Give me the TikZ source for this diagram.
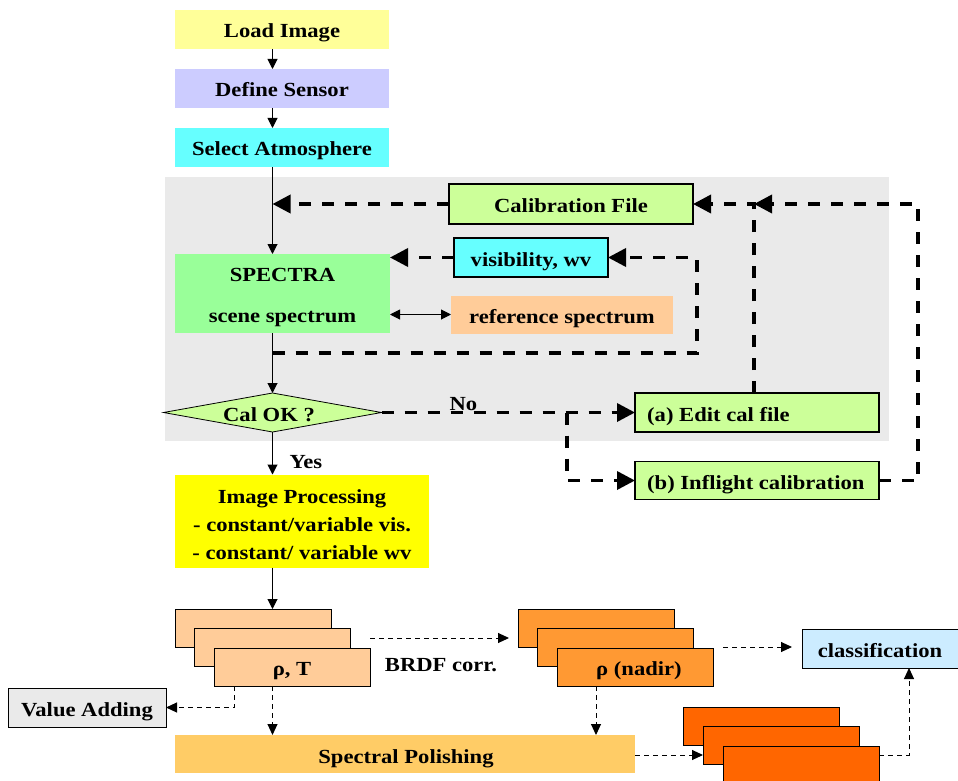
\documentclass[tikz,border=0pt]{standalone}
\usepackage{fontspec}
\setmainfont{Liberation Serif}[FakeStretch=1.13]
\usetikzlibrary{arrows.meta}
\definecolor{cLoad}{HTML}{FFFF99}
\definecolor{cSensor}{HTML}{CCCCFF}
\definecolor{cCyan}{HTML}{66FFFF}
\definecolor{cGray}{HTML}{EAEAEA}
\definecolor{cCal}{HTML}{CCFF99}
\definecolor{cSpectra}{HTML}{99FF99}
\definecolor{cRef}{HTML}{FFCC99}
\definecolor{cIP}{HTML}{FFFF00}
\definecolor{cStackA}{HTML}{FFCC99}
\definecolor{cStackB}{HTML}{FF9933}
\definecolor{cStackC}{HTML}{FF6600}
\definecolor{cPolish}{HTML}{FFCC66}
\definecolor{cClass}{HTML}{CCECFF}
\begin{document}
\begin{tikzpicture}[x=1pt,y=-1pt,
  font=\fontsize{20}{24}\selectfont\bfseries,
  every node/.style={text height=19pt, text depth=2pt},
  box/.style={rectangle, inner sep=0pt, outer sep=0pt},
  bbox/.style={box, draw=black, line width=1.2pt},
  multi/.style={align=center, text height=, text depth=},
  solidarr/.style={line width=1pt, -{Triangle[length=10pt,width=10pt]}},
  dblarr/.style={line width=1pt, {Triangle[length=10pt,width=10pt]}-{Triangle[length=10pt,width=10pt]}},
  bigdash/.style={line width=3.5pt, dash pattern=on 12pt off 11pt, -{Triangle[length=18pt,width=18pt]}},
  smalldash/.style={line width=1pt, dash pattern=on 5pt off 4pt, -{Triangle[length=11pt,width=10pt]}},
]
\useasboundingbox (0,0) rectangle (958,781);
\fill[cGray] (165,177) rectangle (889,441);
\coordinate (mx) at (272.5,0);

% top chain
\node[box, fill=cLoad, minimum width=214pt, minimum height=39pt] (load) at (282,29.5) {Load Image};
\node[box, fill=cSensor, minimum width=214pt, minimum height=39pt] (sensor) at (282,88.5) {Define Sensor};
\node[box, fill=cCyan, minimum width=214pt, minimum height=39pt] (atmo) at (282,147.5) {Select Atmosphere};

% gray region
\node[bbox, fill=cCal, minimum width=244pt, minimum height=40pt] (cal) at (571,204) {Calibration File};
\node[bbox, fill=cCyan, minimum width=154pt, minimum height=39pt] (vis) at (531,257.5) {visibility, wv};
\node[box, fill=cSpectra, minimum width=215pt, minimum height=79pt] (spectra) at (282.5,293.5) {};
\node[multi, font=\fontsize{20}{41}\selectfont\bfseries] (spectrat) at (282.5,297.5) {SPECTRA\\scene spectrum};
\node[box, fill=cRef, minimum width=222pt, minimum height=38pt] (ref) at (562,314.5) {reference spectrum};
\node[box, minimum width=218pt, minimum height=39pt] (calok) at (272.5,412.5) {};
\draw[fill=cCal, line width=0.8pt] (calok.west) -- (calok.north) -- (calok.east) -- (calok.south) -- cycle;
\node (calokt) at (269,412.5) {Cal OK ?};
\node[bbox, fill=cCal, minimum width=244pt, minimum height=39pt] (edit) at (757,412.5) {};
\node[anchor=west, inner sep=0pt] (editt) at ([xshift=12pt]edit.west) {(a) Edit cal file};
\node[bbox, fill=cCal, minimum width=244pt, minimum height=38pt] (infl) at (757,480.5) {};
\node[anchor=west, inner sep=0pt] (inflt) at ([xshift=12pt]infl.west) {(b) Inflight calibration};

% image processing
\node[box, fill=cIP, minimum width=254pt, minimum height=93pt] (ip) at (302,521) {};
\node[multi, font=\fontsize{20}{28}\selectfont\bfseries] (ipt) at (302,525) {Image Processing\\- constant/variable vis.\\- constant/ variable wv};

% stacks
\node[bbox, fill=cStackA, line width=1pt, minimum width=156pt, minimum height=38pt] (s1a) at (253,628) {};
\node[bbox, fill=cStackA, line width=1pt, minimum width=156pt, minimum height=38pt] (s1b) at (272.5,647.5) {};
\node[bbox, fill=cStackA, line width=1pt, minimum width=156pt, minimum height=38pt] (s1c) at (292,667) {ρ, T};
\node[bbox, fill=cStackB, line width=1pt, minimum width=156pt, minimum height=38pt] (s2a) at (596,628) {};
\node[bbox, fill=cStackB, line width=1pt, minimum width=156pt, minimum height=38pt] (s2b) at (615.5,647.5) {};
\node[bbox, fill=cStackB, line width=1pt, minimum width=156pt, minimum height=38pt] (s2c) at (635,667) {};
\node (s2ct) at (639,667) {ρ (nadir)};
\node[bbox, fill=cStackC, line width=1pt, minimum width=156pt, minimum height=38pt] (s3a) at (761.5,726) {};
\node[bbox, fill=cStackC, line width=1pt, minimum width=156pt, minimum height=38pt] (s3b) at (781,745.5) {};
\node[bbox, fill=cStackC, line width=1pt, minimum width=156pt, minimum height=38pt] (s3c) at (801,765) {};

\node[bbox, fill=cGray, line width=1pt, minimum width=158pt, minimum height=39pt] (value) at (87,707.5) {Value Adding};
\node[box, fill=cPolish, minimum width=460pt, minimum height=38pt] (polish) at (405,754) {};
\node (polisht) at (406,755) {Spectral Polishing};
\node[bbox, fill=cClass, line width=1pt, minimum width=156pt, minimum height=39pt] (class) at (880,648.5) {classification};

% labels
\node[anchor=west] (no) at (446,402) {No};
\node[anchor=west] (yes) at (286,460) {Yes};
\node (brdf) at (441,663) {BRDF corr.};

% solid connectors
\draw[solidarr] (load.south -| mx) -- (sensor.north -| mx);
\draw[solidarr] (sensor.south -| mx) -- (atmo.north -| mx);
\draw[solidarr] (atmo.south -| mx) -- (spectra.north -| mx);
\draw[solidarr] (spectra.south -| mx) -- (calok.north);
\draw[solidarr] (calok.south) -- (ip.north -| mx);
\draw[solidarr] (ip.south -| mx) -- (s1a.north -| mx);
\draw[dblarr] (spectra.east |- ref.west) -- (ref.west);

% thick dashed connectors
\coordinate (lp) at (272.5,353);
\coordinate (lr) at (697,353);
\coordinate (br) at (567,412.5);
\coordinate (jn) at (754,204);
\coordinate (rr) at (918,204);
\draw[bigdash] (cal.west) -- (cal.west -| mx);
\draw[bigdash] (vis.west) -- (vis.west -| spectra.east);
\draw[bigdash] (lp) -- (lr) |- (vis.east);
\draw[bigdash] (calok.east) -- (edit.west);
\draw[bigdash] (br) |- (infl.west);
\draw[bigdash] (edit.north -| jn) -- (jn) -- (cal.east);
\draw[bigdash] (infl.east) -| (rr) -- (jn);

% thin dashed connectors
\coordinate (b1) at (370,638);
\coordinate (b2) at (509,638);
\coordinate (c1) at (723,647);
\coordinate (c2) at (792,647);
\coordinate (vx) at (234,0);
\coordinate (px) at (596,0);
\coordinate (kx) at (909,0);
\coordinate (ky) at (0,755);
\draw[smalldash] (b1) -- (b2);
\draw[smalldash] (c1) -- (c2);
\draw[smalldash] (s1c.south -| vx) |- (value.east);
\draw[smalldash] (s1c.south -| mx) -- (polish.north -| mx);
\draw[smalldash] (s2c.south -| px) -- (polish.north -| px);
\draw[smalldash] (polish.east |- ky) -- (s3b.west |- ky);
\draw[smalldash] (s3c.east |- ky) -| (class.south -| kx);
\end{tikzpicture}
\end{document}
